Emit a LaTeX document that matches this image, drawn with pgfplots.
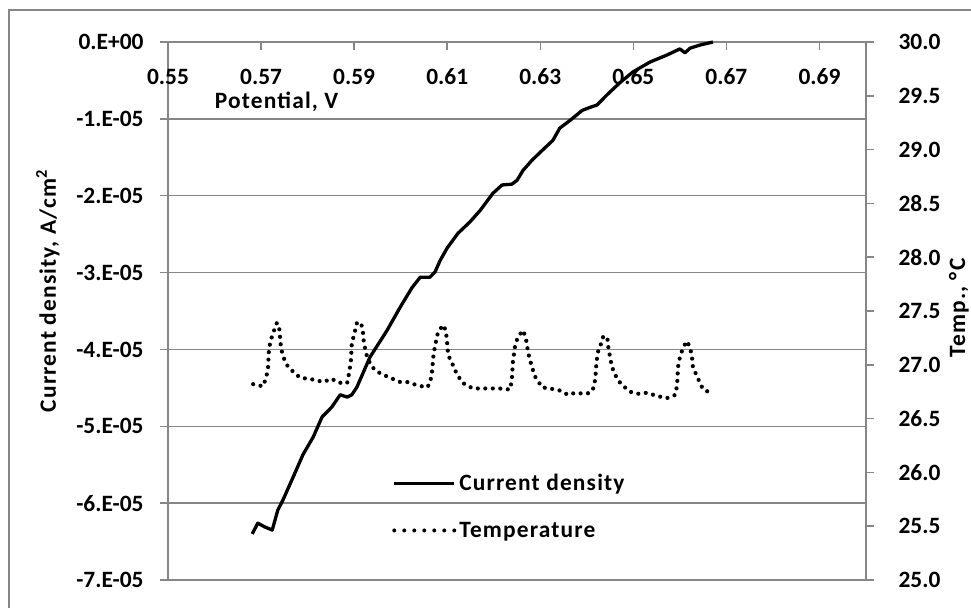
\documentclass[border=0pt]{standalone}
\usepackage{fontspec}
\setmainfont{Carlito}
\newfontfamily\lbl{Carlito}[LetterSpace=5]
\usepackage{pgfplots}
\pgfplotsset{compat=1.18}
\definecolor{axgray}{RGB}{134,134,134}
\pgfplotstableread{
x y
0.5681 -6.40e-5
0.5693 -6.26e-5
0.5708 -6.31e-5
0.5724 -6.35e-5
0.5730 -6.22e-5
0.5736 -6.09e-5
0.5747 -5.96e-5
0.5769 -5.66e-5
0.5790 -5.37e-5
0.5812 -5.14e-5
0.5831 -4.88e-5
0.5852 -4.75e-5
0.5870 -4.59e-5
0.5885 -4.62e-5
0.5895 -4.59e-5
0.5906 -4.49e-5
0.5934 -4.10e-5
0.5971 -3.75e-5
0.5999 -3.45e-5
0.6024 -3.20e-5
0.6042 -3.06e-5
0.6063 -3.06e-5
0.6074 -2.99e-5
0.6085 -2.84e-5
0.6100 -2.68e-5
0.6123 -2.49e-5
0.6149 -2.34e-5
0.6171 -2.19e-5
0.6198 -1.97e-5
0.6218 -1.86e-5
0.6239 -1.85e-5
0.6250 -1.80e-5
0.6263 -1.67e-5
0.6282 -1.54e-5
0.6299 -1.44e-5
0.6327 -1.28e-5
0.6342 -1.12e-5
0.6364 -1.02e-5
0.6390 -8.9e-6
0.6407 -8.5e-6
0.6422 -8.2e-6
0.6443 -6.9e-6
0.6471 -5.3e-6
0.6499 -3.9e-6
0.6536 -2.6e-6
0.6572 -1.7e-6
0.6600 -9e-7
0.6611 -1.4e-6
0.6622 -8e-7
0.6643 -4e-7
0.6671 0
}\currenttable
\pgfplotstableread{
x t
0.5683 26.82
0.5704 26.80
0.5711 26.88
0.5715 26.97
0.5717 27.15
0.5721 27.23
0.5728 27.32
0.5734 27.39
0.5739 27.34
0.5743 27.15
0.5749 27.06
0.5758 26.98
0.5773 26.92
0.5784 26.88
0.5801 26.87
0.5816 26.86
0.5833 26.84
0.5852 26.87
0.5863 26.84
0.5874 26.83
0.5885 26.83
0.5889 26.92
0.5893 27.03
0.5895 27.20
0.5900 27.28
0.5906 27.39
0.5915 27.39
0.5919 27.30
0.5921 27.20
0.5928 27.07
0.5938 26.98
0.5956 26.92
0.5977 26.88
0.5999 26.84
0.6014 26.84
0.6035 26.81
0.6057 26.79
0.6063 26.83
0.6067 26.92
0.6070 27.07
0.6074 27.18
0.6080 27.30
0.6091 27.37
0.6097 27.32
0.6100 27.20
0.6102 27.09
0.6110 27.02
0.6121 26.91
0.6134 26.83
0.6155 26.78
0.6186 26.78
0.6213 26.78
0.6235 26.77
0.6239 26.86
0.6241 27.02
0.6246 27.18
0.6252 27.26
0.6263 27.32
0.6269 27.25
0.6274 27.11
0.6282 26.98
0.6289 26.89
0.6304 26.79
0.6321 26.78
0.6343 26.76
0.6360 26.72
0.6375 26.74
0.6396 26.73
0.6407 26.74
0.6413 26.77
0.6418 26.86
0.6421 27.03
0.6424 27.12
0.6431 27.20
0.6435 27.26
0.6444 27.26
0.6446 27.17
0.6450 27.07
0.6454 26.98
0.6465 26.87
0.6476 26.81
0.6482 26.79
0.6493 26.75
0.6508 26.73
0.6529 26.74
0.6551 26.71
0.6572 26.69
0.6590 26.72
0.6594 26.81
0.6596 26.98
0.6600 27.07
0.6607 27.16
0.6615 27.22
0.6622 27.16
0.6626 27.07
0.6628 26.98
0.6637 26.89
0.6650 26.77
0.6661 26.75
}\temptable
\begin{document}
\begin{tikzpicture}[font=\bfseries\fontsize{23.5}{28}\selectfont]
\draw[axgray, line width=1.5bp] (9bp,-30bp) rectangle (1010bp,598bp);
\begin{axis}[
  at={(168bp,28bp)}, anchor=south west,
  scale only axis, width=698bp, height=538bp,
  xmin=0.55, xmax=0.70, ymin=-0.00007, ymax=0,
  scaled y ticks=false, scaled x ticks=false,
  axis line style={axgray, line width=1.5bp},
  xtick={0.55,0.57,0.59,0.61,0.63,0.65,0.67,0.69},
  xticklabels={0.55,0.57,0.59,0.61,0.63,0.65,0.67,0.69},
  ytick={-0.00007,-0.00006,-0.00005,-0.00004,-0.00003,-0.00002,-0.00001,0},
  yticklabels={-7.E-05,-6.E-05,-5.E-05,-4.E-05,-3.E-05,-2.E-05,-1.E-05,0.E+00},
  xtick pos=upper, xticklabel pos=upper, ytick pos=left,
  tick align=outside, major tick length=8bp,
  tick style={axgray, line width=1.5bp},
  x tick style={yshift=-8bp},
  xticklabel style={anchor=center, yshift=-43bp},
  yticklabel style={xshift=-13bp},
  ymajorgrids, grid style={axgray, line width=1.5bp},
  xlabel={Potential, V},
  xlabel style={at={(axis description cs:0.067,0.877)}, anchor=base west, inner sep=0pt, font=\lbl\bfseries\fontsize{23.5}{28}\selectfont},
  ylabel={Current density, A/cm\textsuperscript{2}},
  ylabel style={at={(axis description cs:-0.1605,0.537)}, anchor=base, font=\lbl\bfseries\fontsize{23.5}{28}\selectfont},
  clip=false,
]
\addplot[black, line width=3.3bp, line join=round] table[x=x,y=y] {\currenttable};
\end{axis}
\begin{axis}[
  at={(168bp,28bp)}, anchor=south west,
  scale only axis, width=698bp, height=538bp,
  xmin=0.55, xmax=0.70, ymin=25, ymax=30,
  axis x line=none, axis y line*=right,
  axis line style={axgray, line width=1.5bp},
  ytick={25,25.5,26,26.5,27,27.5,28,28.5,29,29.5,30},
  yticklabels={25.0,25.5,26.0,26.5,27.0,27.5,28.0,28.5,29.0,29.5,30.0},
  tick align=outside, major tick length=8bp,
  tick style={axgray, line width=1.5bp},
  yticklabel style={xshift=21bp},
  legend style={draw=none, fill=none, at={(axis description cs:0.321,0.197)}, anchor=north west, inner sep=0pt, row sep=30bp, column sep=0pt, nodes={inner sep=0pt}, font=\lbl\bfseries\fontsize{23.5}{28}\selectfont},
  legend cell align=left,
  legend image code/.code={\draw[#1] (0bp,0bp) -- (60bp,0bp);},
  clip=false,
]
\addlegendimage{black, line width=3.3bp}
\addlegendentry{\hspace{3bp}Current density}
\addlegendimage{black, line width=4bp, line cap=round, dash pattern=on 0bp off 10bp}
\addlegendentry{\hspace{3bp}Temperature}
\addplot[black, line width=4.2bp, line cap=round, dash pattern=on 0bp off 7.5bp, forget plot] table[x=x,y=t] {\temptable};
\end{axis}
\node[rotate=90, anchor=base, font=\lbl\bfseries\fontsize{23.5}{28}\selectfont] at (965bp,300bp) {Temp., \textdegree C};
\pgfresetboundingbox
\useasboundingbox (0bp,0bp) rectangle (971bp,608bp);
\end{tikzpicture}
\end{document}
